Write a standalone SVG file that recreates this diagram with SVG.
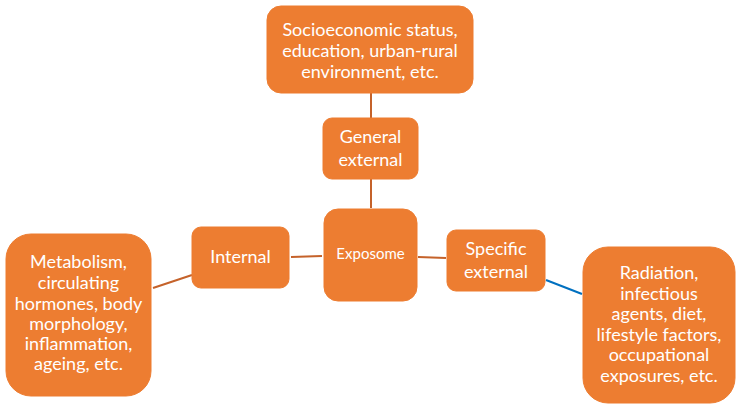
<svg xmlns="http://www.w3.org/2000/svg" width="742" height="411" viewBox="0 0 742 411">
<style>
.box{fill:#ED7D31;stroke:#ED7D31;stroke-width:1}
.t{fill:#fff;font-family:Lato,"Open Sans","Liberation Sans",sans-serif;font-size:18px;text-anchor:middle}
.s{font-size:15px}
.c{stroke:#C5622A;stroke-width:2;fill:none}
.b{stroke:#0070C0;stroke-width:2;fill:none}
</style>
<rect width="742" height="411" fill="#fff"/>
<g id="connectors">
<line class="c" x1="371" y1="93" x2="371" y2="118"/>
<line class="c" x1="371" y1="179" x2="371" y2="208"/>
<line class="c" x1="291" y1="257" x2="322" y2="256"/>
<line class="c" x1="192" y1="275" x2="153" y2="288"/>
<line class="c" x1="418" y1="257" x2="446" y2="258"/>
<line class="b" x1="546" y1="280" x2="582" y2="294"/>
</g>
<g id="socio">
<rect class="box" x="267" y="6" width="206" height="87" rx="14"/>
<text class="t"><tspan x="370" y="36">Socioeconomic status,</tspan><tspan x="370" y="57">education, urban-rural</tspan><tspan x="370" y="78">environment, etc.</tspan></text>
</g>
<g id="general">
<rect class="box" x="323" y="118" width="95" height="61" rx="9"/>
<text class="t"><tspan x="370.5" y="143">General</tspan><tspan x="370.5" y="166">external</tspan></text>
</g>
<g id="exposome">
<rect class="box" x="324" y="209" width="93" height="92" rx="14"/>
<text class="t s" x="370.5" y="259">Exposome</text>
</g>
<g id="internal">
<rect class="box" x="192" y="227" width="97" height="61" rx="9"/>
<text class="t" x="240.5" y="263">Internal</text>
</g>
<g id="internal-detail">
<rect class="box" x="6" y="234" width="145" height="162" rx="25"/>
<text class="t"><tspan x="78.5" y="268">Metabolism,</tspan><tspan x="78.5" y="289">circulating</tspan><tspan x="78.5" y="310">hormones, body</tspan><tspan x="78.5" y="330">morphology,</tspan><tspan x="78.5" y="350">inflammation,</tspan><tspan x="78.5" y="370">ageing, etc.</tspan></text>
</g>
<g id="specific">
<rect class="box" x="447" y="230" width="98" height="61" rx="9"/>
<text class="t"><tspan x="496" y="255">Specific</tspan><tspan x="496" y="278">external</tspan></text>
</g>
<g id="specific-detail">
<rect class="box" x="583" y="247" width="152" height="156" rx="25"/>
<text class="t"><tspan x="659" y="279">Radiation,</tspan><tspan x="659" y="300">infectious</tspan><tspan x="659" y="320">agents, diet,</tspan><tspan x="659" y="341">lifestyle factors,</tspan><tspan x="659" y="361">occupational</tspan><tspan x="659" y="382">exposures, etc.</tspan></text>
</g>
</svg>
